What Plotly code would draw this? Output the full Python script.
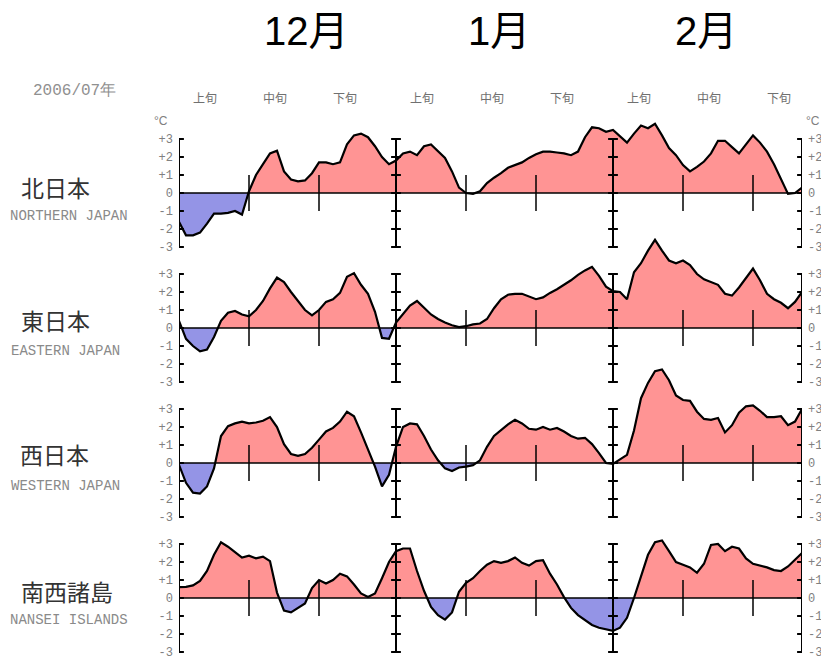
import plotly.graph_objects as go

# ---------------- data (daily anomalies, Dec 1 .. Feb 28) ----------------
days = list(range(90))  # 0 = Dec 1, 31 = Jan 1, 62 = Feb 1, 89 = Feb 28

north = [-1.6, -2.35, -2.35, -2.2, -1.7, -1.15, -1.15, -1.1, -1.0, -1.2,
         0.1, 1.0, 1.6, 2.2, 2.35, 1.2, 0.75, 0.65, 0.7, 1.1,
         1.7, 1.7, 1.6, 1.7, 2.7, 3.2, 3.3, 3.1, 2.6, 2.0, 1.6,
         1.8, 2.2, 2.3, 2.1, 2.6, 2.7, 2.3, 1.95, 1.2, 0.3,
         0.0, -0.05, 0.1, 0.55, 0.85, 1.1, 1.4, 1.55, 1.7, 1.95,
         2.15, 2.3, 2.3, 2.25, 2.2, 2.1, 2.3, 3.1, 3.65, 3.6, 3.4,
         3.5, 3.15, 2.8, 3.3, 3.75, 3.6, 3.85, 3.2, 2.5, 2.1,
         1.55, 1.2, 1.45, 1.75, 2.2, 2.9, 2.9, 2.55, 2.2, 2.7,
         3.2, 2.8, 2.3, 1.6, 0.8, -0.05, 0.0, 0.3]

east = [0.4, -0.6, -1.0, -1.3, -1.2, -0.5, 0.4, 0.85, 0.95, 0.75,
        0.65, 1.0, 1.5, 2.2, 2.8, 2.55, 2.0, 1.5, 1.0, 0.7,
        1.0, 1.45, 1.6, 1.95, 2.85, 3.05, 2.4, 1.9, 0.9, -0.55, -0.6,
        0.3, 0.8, 1.25, 1.5, 1.1, 0.75, 0.5, 0.3, 0.15, 0.05,
        0.1, 0.2, 0.25, 0.5, 1.1, 1.6, 1.85, 1.9, 1.9, 1.75,
        1.6, 1.7, 1.95, 2.15, 2.4, 2.65, 2.95, 3.2, 3.4, 2.9, 2.3,
        2.05, 2.0, 1.6, 3.1, 3.6, 4.3, 4.9, 4.3, 3.75, 3.6,
        3.75, 3.5, 3.0, 2.7, 2.55, 2.4, 1.9, 1.8, 2.25, 2.8,
        3.3, 2.65, 1.9, 1.6, 1.4, 1.1, 1.45, 2.0]

west = [-0.1, -1.1, -1.65, -1.7, -1.3, -0.3, 1.5, 2.05, 2.2, 2.3,
        2.2, 2.25, 2.35, 2.55, 2.0, 1.05, 0.5, 0.4, 0.5, 0.85,
        1.3, 1.75, 1.95, 2.3, 2.85, 2.6, 1.7, 0.8, -0.2, -1.3, -0.65,
        0.9, 2.0, 2.2, 2.15, 1.5, 0.75, 0.15, -0.3, -0.45, -0.25,
        -0.2, -0.12, 0.15, 0.9, 1.5, 1.85, 2.15, 2.4, 2.2, 1.9,
        1.85, 2.0, 1.85, 1.95, 1.75, 1.5, 1.35, 1.4, 1.05, 0.55, 0.0,
        -0.05, 0.2, 0.45, 1.8, 3.6, 4.45, 5.1, 5.2, 4.6, 3.75,
        3.5, 3.45, 2.85, 2.45, 2.4, 2.5, 1.7, 2.1, 2.8, 3.15,
        3.2, 2.9, 2.55, 2.55, 2.6, 2.1, 2.3, 3.0]

nansei = [0.6, 0.62, 0.7, 0.95, 1.5, 2.4, 3.1, 2.85, 2.55, 2.25,
          2.35, 2.2, 2.3, 2.05, 0.3, -0.7, -0.8, -0.55, -0.3, 0.55,
          1.0, 0.8, 1.0, 1.35, 1.2, 0.75, 0.25, 0.05, 0.25, 1.1, 2.0,
          2.6, 2.75, 2.75, 1.5, 0.4, -0.5, -0.95, -1.2, -0.8, 0.35,
          0.85, 1.1, 1.5, 1.85, 2.05, 1.95, 2.05, 2.25, 1.95, 1.8,
          2.05, 2.1, 1.35, 0.75, 0.05, -0.55, -0.95, -1.25, -1.5, -1.65, -1.75,
          -1.83, -1.65, -1.1, 0.0, 1.2, 2.4, 3.1, 3.2, 2.6, 2.0,
          1.85, 1.7, 1.4, 1.9, 2.95, 3.0, 2.6, 2.85, 2.75, 2.2,
          1.9, 1.8, 1.7, 1.55, 1.5, 1.75, 2.1, 2.5]

series = [north, east, west, nansei]
region_jp = ["北日本", "東日本", "西日本", "南西諸島"]
region_en = ["NORTHERN JAPAN", "EASTERN JAPAN", "WESTERN JAPAN", "NANSEI ISLANDS"]
months = ["12月", "1月", "2月"]
dekads = ["上旬", "中旬", "下旬"]
dekad_starts = [0, 10, 20, 31, 41, 51, 62, 72, 82]
month_axes = [0, 31, 62, 89]
dekad_ticks = [10, 20, 41, 51, 72, 82]
tick_vals = [-3, -2, -1, 0, 1, 2, 3]
tick_text = ["-3", "-2", "-1", "0", "+1", "+2", "+3"]

# ---------------- layout geometry ----------------
OFF = 8                      # page body margin of the html page
W, H = 829 - OFF, 660 - OFF  # figure size so the page fills the window
PINK = "#ff9494"
BLUE = "#9494e6"
GRAY = "#808080"
zero_px = [193, 328, 463, 598]
UNIT = 18.0
YMIN, YMAX = -3.4, 5.6


def pxx(p):
    return (p - OFF) / W


def pxy(p):
    return 1 - (p - OFF) / H


def split_sign(xs, ys):
    px, pyv = [], []
    for i in range(len(xs)):
        if i > 0:
            a, b = ys[i - 1], ys[i]
            if (a > 0 and b < 0) or (a < 0 and b > 0):
                t = a / (a - b)
                px.append(xs[i - 1] + t * (xs[i] - xs[i - 1]))
                pyv.append(0.0)
        px.append(xs[i])
        pyv.append(ys[i])
    pos = [max(v, 0) for v in pyv]
    neg = [min(v, 0) for v in pyv]
    return px, pos, neg


fig = go.Figure()

for k, vals in enumerate(series):
    yl = "y" if k == 0 else f"y{k + 1}"
    yr = f"y{k + 5}"
    xs, pos, neg = split_sign(days, vals)
    fig.add_trace(go.Scatter(x=xs, y=pos, mode="lines", fill="tozeroy",
                             fillcolor=PINK, line=dict(width=0),
                             xaxis="x", yaxis=yl, hoverinfo="skip"))
    fig.add_trace(go.Scatter(x=xs, y=neg, mode="lines", fill="tozeroy",
                             fillcolor=BLUE, line=dict(width=0),
                             xaxis="x", yaxis=yl, hoverinfo="skip"))
    fig.add_trace(go.Scatter(x=days, y=vals, mode="lines",
                             line=dict(color="black", width=2.2),
                             xaxis="x", yaxis=yl, hoverinfo="skip"))
    # zero line
    fig.add_trace(go.Scatter(x=[month_axes[0], month_axes[-1]], y=[0, 0], mode="lines",
                             line=dict(color="black", width=1.5),
                             xaxis="x", yaxis=yr, hoverinfo="skip"))
    # month axis lines
    ax_x, ax_y = [], []
    for d in month_axes:
        ax_x += [d, d, None]
        ax_y += [tick_vals[0], tick_vals[-1], None]
    fig.add_trace(go.Scatter(x=ax_x, y=ax_y, mode="lines",
                             line=dict(color="black", width=2),
                             xaxis="x", yaxis=yr, hoverinfo="skip"))
    # cross ticks
    tx = [d for d in month_axes for _ in tick_vals]
    ty = [v for _ in month_axes for v in tick_vals]
    fig.add_trace(go.Scatter(x=tx, y=ty, mode="markers",
                             marker=dict(symbol="line-ew", size=7,
                                         line=dict(color="black", width=2)),
                             xaxis="x", yaxis=yr, hoverinfo="skip"))
    # dekad ticks
    dx, dy = [], []
    for d in dekad_ticks:
        dx += [d, d, None]
        dy += [-1, 1, None]
    fig.add_trace(go.Scatter(x=dx, y=dy, mode="lines",
                             line=dict(color="black", width=1.5),
                             xaxis="x", yaxis=yr, hoverinfo="skip"))

layout = dict(
    width=W, height=H,
    margin=dict(l=0, r=0, t=0, b=0),
    paper_bgcolor="white", plot_bgcolor="rgba(0,0,0,0)",
    showlegend=False,
    xaxis=dict(domain=[pxx(179), pxx(802)], range=[month_axes[0], month_axes[-1]],
               showgrid=False, zeroline=False, showticklabels=False,
               showline=False, ticks="", fixedrange=True),
)

for k in range(4):
    z = zero_px[k]
    dom = [pxy(z - YMIN * UNIT), pxy(z - YMAX * UNIT)]
    dom = [max(0, dom[0]), min(1, dom[1])]
    common = dict(range=[YMIN, YMAX], showgrid=False, zeroline=False,
                  showline=False, ticks="", tickvals=tick_vals, ticktext=tick_text,
                  tickfont=dict(family="Liberation Mono", size=12, color=GRAY),
                  ticklabelstandoff=5, ticklabeloverflow="allow", fixedrange=True)
    lname = "yaxis" if k == 0 else f"yaxis{k + 1}"
    layout[lname] = dict(domain=dom, anchor="x", side="left", **common)
    layout[f"yaxis{k + 5}"] = dict(overlaying="y" if k == 0 else f"y{k + 1}",
                                   anchor="x", side="right", **common)

fig.update_layout(**layout)

ann = []
# month titles
for txt, xc in zip(months, [306, 499, 706]):
    ann.append(dict(text=txt, x=pxx(xc), y=pxy(31), xref="paper", yref="paper",
                    showarrow=False, xanchor="center", yanchor="middle",
                    font=dict(family="Liberation Sans, Noto Sans CJK JP", size=40,
                              color="black")))
# dekad labels
for i, d in enumerate(dekad_starts):
    ann.append(dict(text=dekads[i % 3], x=d + 3.7, y=pxy(98), xref="x", yref="paper",
                    showarrow=False, xanchor="center", yanchor="middle",
                    font=dict(family="Noto Sans CJK JP", size=12, color="#707070")))
# year label
ann.append(dict(text="2006/07年", x=pxx(74), y=pxy(91), xref="paper", yref="paper",
                showarrow=False, xanchor="center", yanchor="middle",
                font=dict(family="Liberation Mono", size=16, color="#909090")))
# degree labels
ann.append(dict(text="°C", x=pxx(161), y=pxy(121), xref="paper", yref="paper",
                showarrow=False, xanchor="center", yanchor="middle",
                font=dict(family="Liberation Sans", size=12, color=GRAY)))
ann.append(dict(text="°C", x=pxx(813), y=pxy(121), xref="paper", yref="paper",
                showarrow=False, xanchor="center", yanchor="middle",
                font=dict(family="Liberation Sans", size=12, color=GRAY)))
# region names
jp_pos = [(55, 187), (55, 320), (54, 454), (67, 591)]
en_pos = [(69, 215.5), (65, 350.5), (65, 485.5), (69, 620)]
for k in range(4):
    ann.append(dict(text=region_jp[k], x=pxx(jp_pos[k][0]), y=pxy(jp_pos[k][1]),
                    xref="paper", yref="paper", showarrow=False,
                    xanchor="center", yanchor="middle",
                    font=dict(family="Noto Sans CJK JP", size=23, color="#333333")))
    ann.append(dict(text=region_en[k], x=pxx(en_pos[k][0]), y=pxy(en_pos[k][1]),
                    xref="paper", yref="paper", showarrow=False,
                    xanchor="center", yanchor="middle",
                    font=dict(family="Liberation Mono", size=14, color="#8a8a8a")))

fig.update_layout(annotations=ann)
fig.write_html("out.html")
